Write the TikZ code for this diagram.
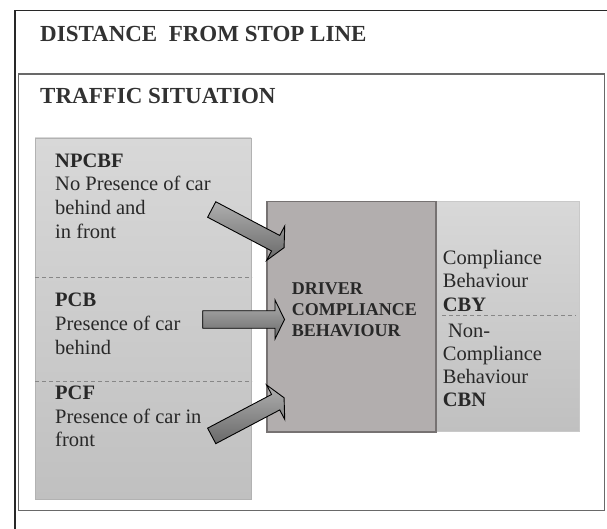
\documentclass[tikz,border=0pt]{standalone}
\usepackage{fontspec}
\setmainfont{Liberation Serif}
\definecolor{txt}{RGB}{40,40,40}
\definecolor{ttl}{RGB}{50,50,50}
\definecolor{frameout}{RGB}{40,40,40}
\definecolor{framein}{RGB}{105,105,105}
\definecolor{lighttop}{RGB}{216,216,216}
\definecolor{lightbot}{RGB}{192,192,192}
\definecolor{lightedge}{RGB}{178,178,178}
\definecolor{midfill}{RGB}{178,174,174}
\definecolor{midedge}{RGB}{118,114,114}
\definecolor{dashc}{RGB}{135,135,135}
\definecolor{arrtop}{RGB}{175,175,175}
\definecolor{arrbot}{RGB}{105,105,105}
\begin{document}
\begin{tikzpicture}[x=1pt,y=-1pt,
  titletext/.style={font=\fontsize{23}{27}\selectfont\bfseries, text=ttl, anchor=base west, inner sep=0pt},
  bodytext/.style={font=\fontsize{20.5}{23.7}\selectfont, text=txt, align=left, anchor=base west, inner sep=0pt},
  drivertext/.style={font=\fontsize{18}{21}\selectfont\bfseries, text=txt, align=left, anchor=base west, inner sep=0pt},
  lightbox/.style={draw=lightedge, line width=0.8pt, top color=lighttop, bottom color=lightbot},
  divider/.style={draw=dashc, line width=0.9pt, dash pattern=on 4pt off 3pt},
  blockarrow/.pic={
    \path[draw=black, line width=0.9pt, line join=miter, top color=arrtop, bottom color=arrbot]
      (0,-8.75) -- (72.3,-8.75) -- (72.3,-19.5) -- (81.8,0) -- (72.3,19.5) -- (72.3,8.75) -- (0,8.75) -- cycle;
  }
]
\useasboundingbox (0,0) rectangle (607,529);
% outer frame (distance from stop line)
\coordinate (ob) at (15,529);
\coordinate (ot) at (15,10.7);
\coordinate (or) at (607,10.7);
\draw[frameout, line width=1.3pt] (ob) -- (ot) -- (or);
\node[titletext] (dist) at (40,42) {DISTANCE\ \ FROM STOP LINE};
% inner frame (traffic situation)
\draw[framein, line width=1.4pt] (18.3,74) rectangle (604.5,510.7);
\node[titletext] (traffic) at (40,104) {TRAFFIC SITUATION};
% left box
\path[lightbox] (35,138) rectangle (251,499);
\coordinate (d1a) at (35,277); \coordinate (d1b) at (252,277);
\coordinate (d2a) at (35,381); \coordinate (d2b) at (252,381);
\draw[divider] (d1a) -- (d1b);
\draw[divider] (d2a) -- (d2b);
% (multi-line nodes: base anchor is the baseline of the last line)
\node[bodytext] (npcbf) at (55,238.2) {\textbf{NPCBF}\\No Presence of car\\behind and\\in front};
\node[bodytext] (pcb) at (55,354.2) {\textbf{PCB}\\Presence of car\\behind};
\node[bodytext] (pcf) at (55,446.7) {\textbf{PCF}\\Presence of car in\\front};
% right box
\path[lightbox, draw=lightedge!70!white] (436,201.5) rectangle (579.5,431);
\coordinate (d3a) at (442,315); \coordinate (d3b) at (576,315);
\draw[divider] (d3a) -- (d3b);
\node[bodytext] (cby) at (442.7,311.5) {Compliance\\Behaviour\\\textbf{CBY}};
\node[bodytext, font=\fontsize{20.5}{23}\selectfont] (cbn) at (442.7,406.7) {\ Non-\\Compliance\\Behaviour\\\textbf{CBN}};
% centre box
\path[fill=midfill, draw=midedge, line width=1.8pt] (267.3,201.5) rectangle (436,432);
\node[drivertext] (driver) at (291.7,336.5) {DRIVER\\COMPLIANCE\\BEHAVIOUR};
% block arrows
\pic[rotate=-27.8] (arr1) at (211.7,209.5) {blockarrow};
\pic (arr2) at (202.7,319.5) {blockarrow};
\pic[rotate=27.8] (arr3) at (211.7,435.9) {blockarrow};
\end{tikzpicture}
\end{document}
